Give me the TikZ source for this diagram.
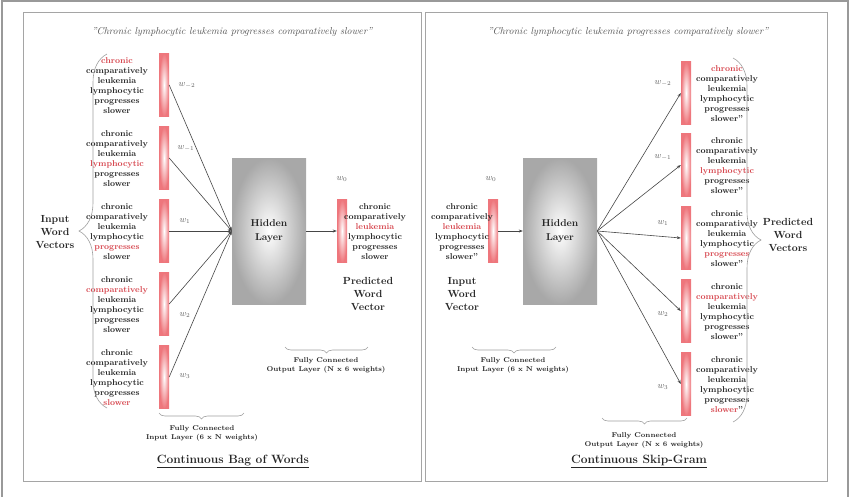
\documentclass[tikz,border=0pt]{standalone}
\usetikzlibrary{arrows.meta,positioning,decorations.pathreplacing}
\definecolor{txt}{RGB}{38,38,38}
\definecolor{hl}{RGB}{214,70,78}
\definecolor{bar}{RGB}{238,118,124}
\definecolor{ln}{RGB}{70,70,70}
\definecolor{frm}{RGB}{165,165,165}
\newcommand{\hlw}[1]{\textcolor{hl}{#1}}
\begin{document}
\begin{tikzpicture}[x=1pt,y=-1pt,
    vec/.style={rectangle,inner sep=0pt,minimum width=10pt,minimum height=63pt,inner color=white,outer color=bar},
    hid/.style={rectangle,inner sep=0pt,minimum width=74pt,minimum height=146pt,inner color=white,outer color=gray!68,font=\fontsize{10}{14}\selectfont\bfseries,text=txt,align=center},
    words/.style={align=center,inner sep=0pt,font=\fontsize{8.5}{10}\selectfont\bfseries,text=txt},
    wlbl/.style={inner sep=0pt,font=\fontsize{9}{10}\selectfont,text=gray!75!black},
    big/.style={align=center,inner sep=0pt,font=\fontsize{10.3}{13.3}\selectfont\bfseries,text=txt},
    small/.style={align=center,inner sep=0pt,font=\fontsize{7}{9}\selectfont\bfseries,text=txt},
    ttl/.style={inner sep=0pt,font=\fontsize{12}{14}\selectfont\bfseries,text=txt},
    quote/.style={inner sep=0pt,font=\fontsize{10}{12}\selectfont\itshape,text=gray!65!black},
    arr/.style={-{Stealth[length=4pt,width=3pt]},draw=ln,line width=0.6pt},
    brc/.style={decorate,decoration={brace,amplitude=#1},draw=gray!75,line width=0.6pt},
]
\useasboundingbox (0,0) rectangle (850,496);

% frames
\draw[gray!80,line width=1.5pt] (2,497) -- (2,1) -- (848,1) -- (848,497);
\draw[frm,line width=0.8pt] (23,12) rectangle (421,481);
\draw[frm,line width=0.8pt] (425,12) rectangle (827,481);

% ---- CBOW ----
\node[quote] (qL) at (232,32) {"Chronic lymphocytic leukemia progresses comparatively slower"};

\node[vec] (b1) at (164,85) {};
\node[vec] (b2) at (164,158) {};
\node[vec] (b3) at (164,231) {};
\node[vec] (b4) at (164,304) {};
\node[vec] (b5) at (164,377) {};

\node[words] (s1) at (117,86) {\hlw{chronic}\\comparatively\\leukemia\\lymphocytic\\progresses\\slower};
\node[words] (s2) at (117,159) {chronic\\comparatively\\leukemia\\\hlw{lymphocytic}\\progresses\\slower};
\node[words] (s3) at (117,232) {chronic\\comparatively\\leukemia\\lymphocytic\\\hlw{progresses}\\slower};
\node[words] (s4) at (117,305) {chronic\\\hlw{comparatively}\\leukemia\\lymphocytic\\progresses\\slower};
\node[words] (s5) at (117,378) {chronic\\comparatively\\leukemia\\lymphocytic\\progresses\\\hlw{slower}};

\node[wlbl] (l1) at (187,85) {$w_{-2}$};
\node[wlbl] (l2) at (186,148) {$w_{-1}$};
\node[wlbl] (l3) at (185,221) {$w_{1}$};
\node[wlbl] (l4) at (185,315) {$w_{2}$};
\node[wlbl] (l5) at (185,376) {$w_{3}$};

\node[big] (iv) at (55,232) {Input\\Word\\Vectors};
\draw[brc=28] (107,408) -- (107,54);

\node[hid] (hL) at (269,231) {Hidden\\Layer};

\node[vec] (o0) at (342,231) {};
\node[words] (os) at (375,232) {chronic\\comparatively\\\hlw{leukemia}\\lymphocytic\\progresses\\slower};
\node[wlbl] (l0) at (342,179) {$w_{0}$};
\node[big] (pv) at (368,294) {Predicted\\Word\\Vector};

\draw[arr] (b1.east) -- (hL.west);
\draw[arr] (b2.east) -- (hL.west);
\draw[arr] (b3.east) -- (hL.west);
\draw[arr] (b4.east) -- (hL.west);
\draw[arr] (b5.east) -- (hL.west);
\draw[arr] (hL) -- (o0);

\draw[brc=6] (244,413) -- (159,413);
\node[small] (ibL) at (202,433) {Fully Connected\\Input Layer (6 x N weights)};
\draw[brc=6] (368,347) -- (285,347);
\node[small] (obL) at (326,365) {Fully Connected\\Output Layer (N x 6 weights)};

\node[ttl] (tL) at (233,461) {\underline{Continuous Bag of Words}};

% ---- Skip-Gram ----
\node[quote] (qR) at (628,32) {"Chronic lymphocytic leukemia progresses comparatively slower"};

\node[vec] (i0) at (493,231) {};
\node[words] (is) at (462,232) {chronic\\comparatively\\\hlw{leukemia}\\lymphocytic\\progresses\\slower''};
\node[wlbl] (r0) at (491,179) {$w_{0}$};
\node[big] (ivR) at (462,294) {Input\\Word\\Vector};

\node[hid] (hR) at (560,231) {Hidden\\Layer};

\node[vec] (c1) at (686,93) {};
\node[vec] (c2) at (686,165) {};
\node[vec] (c3) at (686,238) {};
\node[vec] (c4) at (686,311) {};
\node[vec] (c5) at (686,384) {};

\node[words] (t1) at (727,94) {\hlw{chronic}\\comparatively\\leukemia\\lymphocytic\\progresses\\slower''};
\node[words] (t2) at (727,166) {chronic\\comparatively\\leukemia\\\hlw{lymphocytic}\\progresses\\slower''};
\node[words] (t3) at (727,239) {chronic\\comparatively\\leukemia\\lymphocytic\\\hlw{progresses}\\slower''};
\node[words] (t4) at (727,312) {chronic\\\hlw{comparatively}\\leukemia\\lymphocytic\\progresses\\slower''};
\node[words] (t5) at (727,385) {chronic\\comparatively\\leukemia\\lymphocytic\\progresses\\\hlw{slower}''};

\node[wlbl] (r1) at (663,83) {$w_{-2}$};
\node[wlbl] (r2) at (663,157) {$w_{-1}$};
\node[wlbl] (r3) at (663,223) {$w_{1}$};
\node[wlbl] (r4) at (663,314) {$w_{2}$};
\node[wlbl] (r5) at (663,387) {$w_{3}$};

\draw[brc=28] (733,58) -- (733,422);
\node[big] (pvR) at (788,235) {Predicted\\Word\\Vectors};

\draw[arr] (i0) -- (hR);
\draw[arr] (hR.east) -- (c1.west);
\draw[arr] (hR.east) -- (c2.west);
\draw[arr] (hR.east) -- (c3.west);
\draw[arr] (hR.east) -- (c4.west);
\draw[arr] (hR.east) -- (c5.west);

\draw[brc=6] (556,347) -- (472,347);
\node[small] (ibR) at (513,365) {Fully Connected\\Input Layer (6 x N weights)};
\draw[brc=6] (687,418) -- (602,418);
\node[small] (obR) at (644,440) {Fully Connected\\Output Layer (N x 6 weights)};

\node[ttl] (tR) at (639,461) {\underline{Continuous Skip-Gram}};
\end{tikzpicture}
\end{document}
